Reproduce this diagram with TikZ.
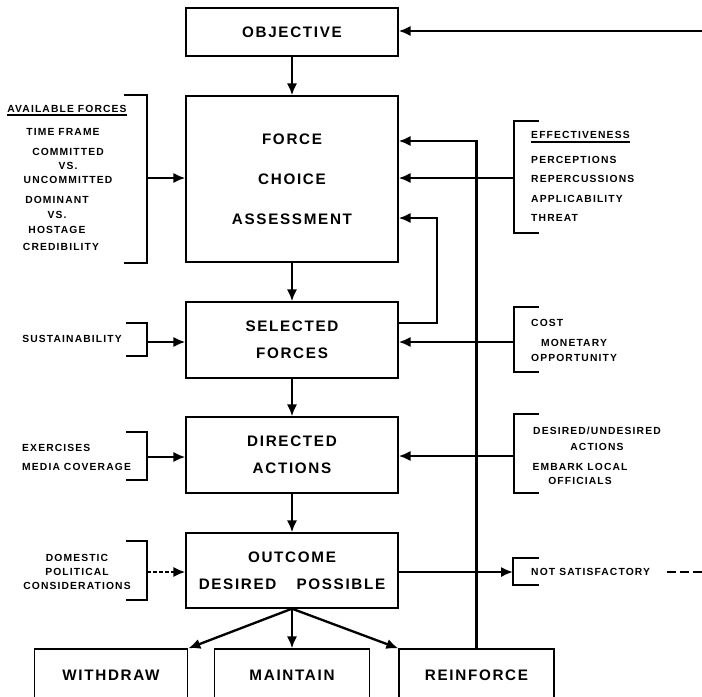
\documentclass[tikz,border=0pt]{standalone}
\usepackage{fontspec}
\setmainfont{Liberation Sans}[LetterSpace=11]
\usetikzlibrary{arrows.meta,positioning}

\begin{document}
\begin{tikzpicture}[x=0.3mm,y=-0.3mm,
  box/.style={draw,line width=0.4mm,minimum width=63.6mm,align=center,
    font=\fontsize{13}{23}\selectfont\bfseries},
  conn/.style={line width=0.7mm,-{Latex[length=3.6mm,width=3.1mm]}},
  brk/.style={line width=0.85mm},
  small/.style={font=\fontsize{8.8}{16.4}\selectfont\bfseries,inner sep=0pt,align=center}]
\clip (0,0) rectangle (702,696);

\node[box,minimum height=14.4mm] (obj) at (292,32) {OBJECTIVE};
\node[box,minimum height=49.8mm,below of=obj,node distance=44.1mm,
  font=\fontsize{13}{34}\selectfont\bfseries] (fca) {FORCE\\CHOICE\\ASSESSMENT};
\node[box,minimum height=22.8mm,below of=fca,node distance=48.3mm] (sel) {SELECTED\\FORCES};
\node[box,minimum height=22.8mm,below of=sel,node distance=34.5mm] (dir) {DIRECTED\\ACTIONS};
\node[box,minimum height=22.5mm,below of=dir,node distance=34.65mm] (out) {OUTCOME\\DESIRED\hspace{6mm}POSSIBLE};
\node[box,minimum width=46.5mm,minimum height=15.6mm,below of=out,node distance=31.35mm] (mnt) {MAINTAIN};
\node[box,minimum width=46mm,minimum height=15.6mm,left of=mnt,node distance=54.3mm] (wdr) {WITHDRAW};
\node[box,minimum width=46.5mm,minimum height=15.6mm,right of=mnt,node distance=55.35mm] (rnf) {REINFORCE};

\draw[conn] (obj) -- (fca);
\draw[conn] (fca) -- (sel);
\draw[conn] (sel) -- (dir);
\draw[conn] (dir) -- (out);
\draw[conn] (out.south) -- (wdr.north east);
\draw[conn] (out.south) -- (mnt);
\draw[conn] (out.south) -- (rnf.north west);

\draw[conn] (rnf.north) |- (fca.east |- 0,141);
\draw[conn] (sel.east |- 0,323) -| (437,218) -- (fca.east |- 0,218);
\coordinate (topr) at (702,31);
\draw[conn] (topr) -- (obj.east |- topr);

\node[small] (avh) at (67,109) {AVAILABLE FORCES};
\draw[line width=0.45mm] ([yshift=-2pt]avh.south west) -- ([yshift=-2pt]avh.south east);
\node[small] (tfr) at (63,132) {TIME FRAME};
\node[small,font=\fontsize{8.8}{12.3}\selectfont\bfseries] (cmt) at (68,166) {COMMITTED\\VS.\\UNCOMMITTED};
\node[small,font=\fontsize{8.8}{12.8}\selectfont\bfseries] (dom) at (57,215) {DOMINANT\\VS.\\HOSTAGE};
\node[small] (crd) at (61,247) {CREDIBILITY};
\draw[brk] (124,95) -- (147,95) -- (147,263) -- (124,263);
\coordinate (avbr) at (147,178);
\draw[conn] (avbr) -- (fca.west |- avbr);

\node[small] (sus) at (72,339) {SUSTAINABILITY};
\draw[brk] (126,323) -- (147,323) -- (147,356) -- (126,356);
\coordinate (susbr) at (147,342);
\draw[conn] (susbr) -- (sel.west |- susbr);

\node[small,align=left,anchor=west] (exc) at (22,457.5) {EXERCISES\\MEDIA COVERAGE};
\draw[brk] (126,432) -- (147,432) -- (147,480) -- (126,480);
\coordinate (exbr) at (147,457);
\draw[conn] (exbr) -- (dir.west |- exbr);

\node[small,font=\fontsize{8.8}{12.3}\selectfont\bfseries] (dpc) at (77,572) {DOMESTIC\\POLITICAL\\CONSIDERATIONS};
\draw[brk] (126,541) -- (147,541) -- (147,600) -- (126,600);
\coordinate (dombr) at (147,572);
\draw[conn,dash pattern=on 1.2mm off 0.6mm] (dombr) -- (out.west |- dombr);

\node[small,anchor=west] (effh) at (531,135) {EFFECTIVENESS};
\draw[line width=0.45mm] ([yshift=-2.5pt]effh.south west) -- ([yshift=-2.5pt]effh.south east);
\node[small,align=left,anchor=west] (effl) at (531,189) {PERCEPTIONS\\REPERCUSSIONS\\APPLICABILITY\\THREAT};
\draw[brk] (539,121) -- (514,121) -- (514,233) -- (539,233);
\coordinate (effbr) at (514,178);
\draw[conn] (effbr) -- (fca.east |- effbr);

\node[small,anchor=west] (cost) at (531,323) {COST};
\node[small,font=\fontsize{8.8}{12.8}\selectfont\bfseries] (mon) at (574,350.5) {MONETARY\\OPPORTUNITY};
\draw[brk] (539,307) -- (514,307) -- (514,372) -- (539,372);
\coordinate (costbr) at (514,342);
\draw[conn] (costbr) -- (sel.east |- costbr);

\node[small,font=\fontsize{8.8}{13.6}\selectfont\bfseries] (dua) at (597,439) {DESIRED/UNDESIRED\\ACTIONS};
\node[small,font=\fontsize{8.8}{11.9}\selectfont\bfseries] (emb) at (580,474) {EMBARK LOCAL\\OFFICIALS};
\draw[brk] (539,414) -- (514,414) -- (514,493) -- (539,493);
\coordinate (desbr) at (514,456);
\draw[conn] (desbr) -- (dir.east |- desbr);

\node[small,anchor=west] (nsat) at (531,572) {NOT SATISFACTORY};
\draw[brk] (539,558) -- (513,558) -- (513,585) -- (539,585);
\coordinate (nsbr) at (513,572);
\draw[conn] (out.east |- nsbr) -- (nsbr);
\coordinate (nsr) at (702,572);
\draw[line width=0.7mm,dash pattern=on 2.7mm off 1.2mm] ([xshift=5mm]nsat.east) -- (nsr);
\end{tikzpicture}
\end{document}
